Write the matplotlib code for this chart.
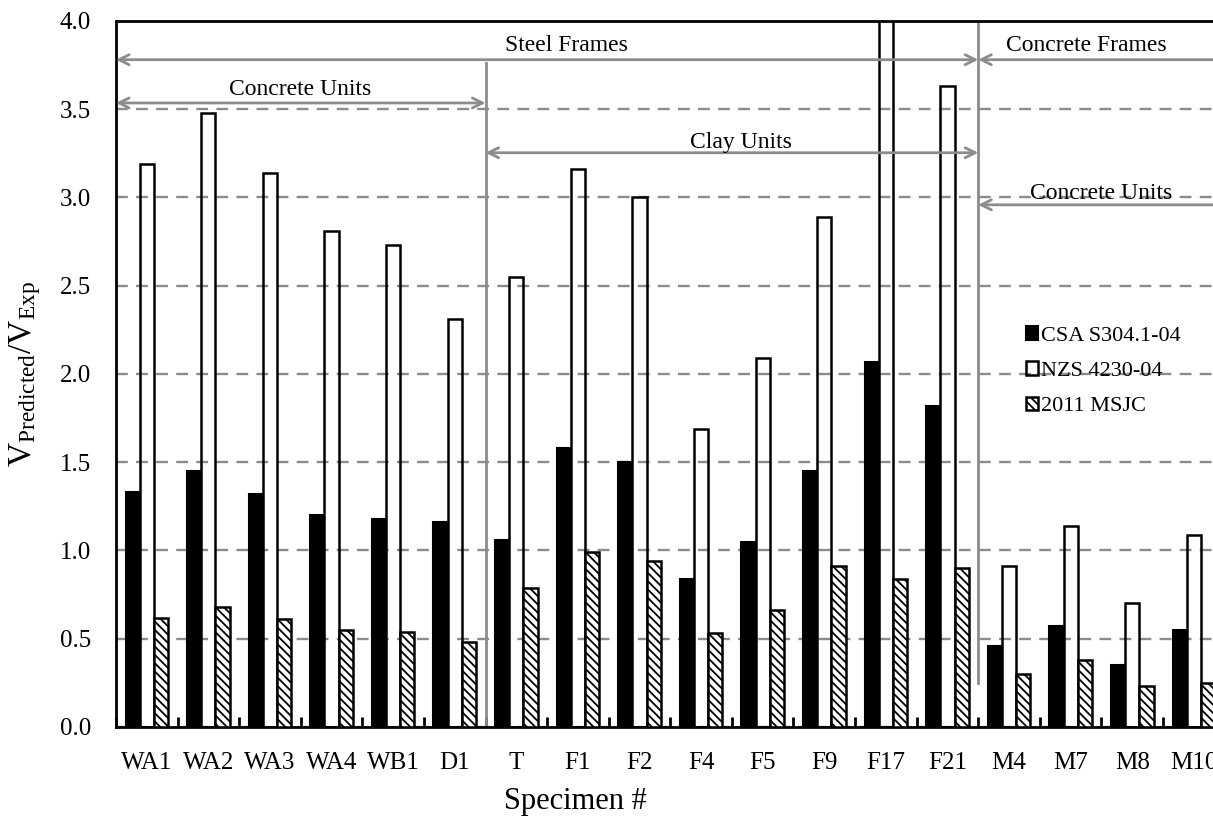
import matplotlib.pyplot as plt
import numpy as np

plt.rcParams['font.family'] = ['Liberation Serif', 'DejaVu Serif']
plt.rcParams['mathtext.fontset'] = 'custom'
plt.rcParams['mathtext.rm'] = 'Liberation Serif'
plt.rcParams['mathtext.it'] = 'Liberation Serif:italic'
plt.rcParams['hatch.linewidth'] = 1.3

specimens = ['WA1', 'WA2', 'WA3', 'WA4', 'WB1', 'D1', 'T', 'F1', 'F2', 'F4',
             'F5', 'F9', 'F17', 'F21', 'M4', 'M7', 'M8', 'M10']
csa = [1.33, 1.45, 1.32, 1.20, 1.18, 1.16, 1.06, 1.58, 1.50, 0.84,
       1.05, 1.45, 2.07, 1.82, 0.46, 0.57, 0.35, 0.55]
nzs = [3.19, 3.48, 3.14, 2.81, 2.73, 2.31, 2.55, 3.16, 3.00, 1.69,
       2.09, 2.89, 4.60, 3.63, 0.91, 1.14, 0.70, 1.09]
msjc = [0.62, 0.68, 0.61, 0.55, 0.54, 0.48, 0.79, 0.99, 0.94, 0.53,
        0.66, 0.91, 0.84, 0.90, 0.30, 0.38, 0.23, 0.25]

x = np.arange(len(specimens))
w = 0.23
grey = '#8c8c8c'

fig = plt.figure(figsize=(12.13, 8.22), dpi=100)
ax = fig.add_axes([0.0956, 0.1156, 0.914, 0.859])

ax.bar(x - w, csa, w, color='black', edgecolor='black', lw=1.5, label='CSA S304.1-04', zorder=3)
ax.bar(x, nzs, w, facecolor='none', edgecolor='black', lw=1.8, label='NZS 4230-04', zorder=3)
ax.bar(x + w, msjc, w, facecolor='white', edgecolor='black', lw=1.8, hatch='\\\\\\\\',
       label='2011 MSJC', zorder=3)

ax.set_xlim(-0.5, len(specimens) - 0.5)
ax.set_ylim(0, 4.0)
ax.set_yticks(np.arange(0, 4.01, 0.5))
ax.set_yticklabels(['%.1f' % v for v in np.arange(0, 4.01, 0.5)])
ax.set_xticks(x)
ax.set_xticklabels(specimens)
ax.set_xticks(np.arange(-0.5, len(specimens)), minor=True)
ax.tick_params(axis='x', which='major', length=0, pad=18, labelsize=18)
ax.tick_params(axis='x', which='minor', direction='in', length=7, width=2)
ax.tick_params(axis='y', length=0, pad=18, labelsize=18)

ax.yaxis.grid(True, color=grey, linestyle=(0, (5, 3.5)), lw=1.7, zorder=1)
for s in ax.spines.values():
    s.set_linewidth(2)

ax.set_xlabel('Specimen #', fontsize=22)
ax.xaxis.set_label_coords(0.414, -0.085)
ax.set_ylabel(r'V$_{\mathrm{Predicted}}$/V$_{\mathrm{Exp}}$', fontsize=24)
ax.yaxis.set_label_coords(-0.066, 0.5)

# group separators
ax.plot([5.5, 5.5], [0, 3.76], color=grey, lw=2, zorder=2)
ax.plot([13.5, 13.5], [0.25, 4.0], color=grey, lw=2, zorder=2)

arrows = [
    (-0.5, 13.5, 3.78, 'Steel Frames', 6.82, 3.86),
    (-0.5, 5.5, 3.535, 'Concrete Units', 2.49, 3.61),
    (5.5, 13.5, 3.253, 'Clay Units', 9.65, 3.31),
    (13.5, 20, 3.78, 'Concrete Frames', 15.26, 3.86),
    (13.5, 20, 2.958, 'Concrete Units', 15.5, 3.02),
]
for x0, x1, yy, txt, tx, ty in arrows:
    ax.annotate('', xy=(x0, yy), xytext=(x1, yy),
                arrowprops=dict(arrowstyle='<->', color=grey, lw=2,
                                shrinkA=0, shrinkB=0, mutation_scale=18),
                annotation_clip=False, zorder=4)
    ax.text(tx, ty, txt, ha='center', va='center', fontsize=17, zorder=5)

ax.legend(loc='upper left', bbox_to_anchor=(0.813, 0.58), frameon=False, fontsize=16,
          handlelength=0.55, handleheight=0.55, handletextpad=0.1, labelspacing=0.7,
          borderaxespad=0)

fig.savefig('out.png', dpi=100)
